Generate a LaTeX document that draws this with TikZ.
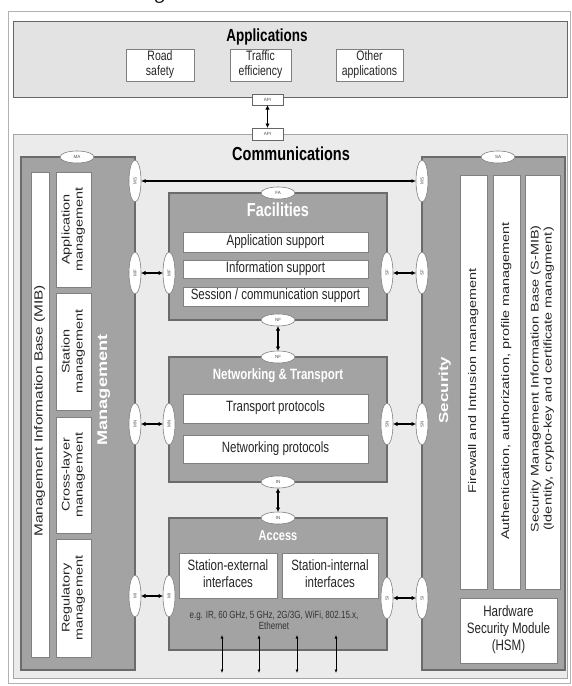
\documentclass[tikz,border=0pt]{standalone}
\usepackage{fontspec}
\setmainfont{Liberation Sans}
\newfontfamily\paperfont{Liberation Serif}
\usepackage{graphicx}
\usetikzlibrary{arrows.meta,shapes.geometric}
\newcommand\vstr[1]{\scalebox{1}[1.3]{\begin{tabular}{@{}c@{}}#1\end{tabular}}}
\newcommand\hstr[1]{\scalebox{1.3}[1]{\begin{tabular}{@{}c@{}}#1\end{tabular}}}
\newcommand\boxat[7]{\node[#6, minimum width={(#4-#2)*1pt}, minimum height={(#5-#3)*1pt}] (#1) at ({(#2+#4)/2},{(#3+#5)/2}) {#7};}
\begin{document}
\begin{tikzpicture}[x=1pt,y=-1pt,
  every node/.style={inner sep=0pt, outer sep=0pt},
  frame/.style={draw=black!30, line width=0.6pt, fill=white},
  appsbox/.style={draw=black!60, line width=1pt, fill=black!11},
  commbox/.style={draw=black!35, line width=1pt, fill=black!8},
  layer/.style={draw=black!58, line width=1.1pt, fill=black!36},
  wbox/.style={draw=black!50, line width=0.8pt, fill=white, text=black!85, align=center},
  sap/.style={ellipse, draw=black!50, line width=0.6pt, fill=white, font=\fontsize{4.5}{5}\selectfont, text=black!70},
  vsap/.style={sap, minimum width=12pt, minimum height=42pt},
  hsap/.style={sap, minimum width=34pt, minimum height=12pt},
  apibox/.style={draw=black!60, line width=0.6pt, fill=white, minimum width=31pt, minimum height=11pt, font=\fontsize{4.5}{5}\selectfont, text=black!70},
  dblarrow/.style={{Latex[length=4.5pt,width=4.5pt]}-{Latex[length=4.5pt,width=4.5pt]}, line width=1.3pt},
  msarrow/.style={{Latex[length=4.5pt,width=4pt]}-{Latex[length=4.5pt,width=4pt]}, line width=1.1pt},
  ioarrow/.style={{Latex[length=3.5pt,width=3pt]}-{Latex[length=3.5pt,width=3pt]}, line width=0.7pt},
  rottext/.style={rotate=90, text=black!85, font=\fontsize{11.1}{13}\selectfont},
  wtitle/.style={text=white, font=\bfseries\fontsize{14.5}{16}\selectfont},
  smalltext/.style={font=\fontsize{11.5}{13}\selectfont}
]
\useasboundingbox (0,0) rectangle (571,686);
\clip (0,0) rectangle (571,686);

% paper text cut at the top
\node[anchor=base west, font=\paperfont\fontsize{21}{21}\selectfont] (ptext) at (1,-3) {\scalebox{1}[1.3]{ts 3 is shown in Fig. 3}};

% outer frame
\boxat{outer}{8}{11}{570}{683}{frame}{}

% Applications
\boxat{apps}{13}{21}{567}{97}{appsbox}{}
\node[font=\bfseries\fontsize{13.5}{15}\selectfont] (apptitle) at (267,38) {\vstr{Applications}};
\boxat{road}{126}{49}{194}{81}{wbox, font=\fontsize{10.5}{12}\selectfont}{\vstr{Road\\safety}}
\boxat{traffic}{230}{49}{291}{81}{wbox, font=\fontsize{10.5}{12}\selectfont}{\vstr{Traffic\\efficiency}}
\boxat{other}{336}{49}{403}{81}{wbox, font=\fontsize{10.5}{12}\selectfont}{\vstr{Other\\applications}}

% Communications
\boxat{comm}{13}{134}{567}{678}{commbox}{}
\node[font=\bfseries\fontsize{14.5}{16}\selectfont] (commtitle) at (291,156) {\vstr{Communications}};

\node[apibox] (api1) at (267.5,99.5) {API};
\node[apibox, minimum height=12pt] (api2) at (267.5,134) {API};

% Management
\boxat{mgmt}{21}{157}{135}{670}{layer}{}
\boxat{mib}{31}{172}{49}{657}{wbox}{}
\boxat{appm}{56}{172}{91}{287}{wbox}{}
\boxat{statm}{56}{293}{91}{410}{wbox}{}
\boxat{crossm}{56}{417}{91}{533}{wbox}{}
\boxat{regm}{56}{539}{91}{657}{wbox}{}
\node[rottext, font=\fontsize{11.8}{13}\selectfont] (mibtext) at (40,411) {\hstr{Management Information Base (MIB)}};
\node[rottext] (appmtext) at (73.5,229.5) {\hstr{Application\\management}};
\node[rottext] (statmtext) at (73.5,351.5) {\hstr{Station\\management}};
\node[rottext] (crossmtext) at (73.5,475) {\hstr{Cross-layer\\management}};
\node[rottext] (regmtext) at (73.5,598) {\hstr{Regulatory\\management}};
\node[rotate=90, text=white, font=\bfseries\fontsize{14}{16}\selectfont] (mgmttitle) at (104,390) {\hstr{Management}};

% Security
\boxat{sec}{422}{157}{565}{670}{layer}{}
\boxat{fw}{460}{175}{487}{589}{wbox}{}
\boxat{auth}{493}{175}{520}{589}{wbox}{}
\boxat{smib}{525}{175}{560}{589}{wbox}{}
\boxat{hsm}{460}{598}{557}{663}{wbox, font=\fontsize{11.6}{13}\selectfont}{\vstr{Hardware\\Security Module\\(HSM)}}
\node[rottext] (fwtext) at (473.5,381) {\hstr{Firewall and Intrusion management}};
\node[rottext] (authtext) at (506.5,381) {\hstr{Authentication, authorization, profile management}};
\node[rottext] (smibtext) at (542.5,379) {\hstr{Security Management Information Base (S-MIB)\\(Identity, crypto-key and certificate managment)}};
\node[rotate=90, text=white, font=\bfseries\fontsize{13}{15}\selectfont] (sectitle) at (445,390) {\hstr{Security}};

% Facilities
\boxat{fac}{169}{193}{387}{320}{layer}{}
\node[wtitle] (factitle) at (278,212) {\vstr{Facilities}};
\boxat{appsup}{183}{232}{368}{252}{wbox, smalltext}{\vstr{Application support}}
\boxat{infosup}{183}{260}{368}{278}{wbox, smalltext}{\vstr{Information support}}
\boxat{sesssup}{183}{287}{368}{306}{wbox, smalltext}{\vstr{Session / communication support}}

% Networking & Transport
\boxat{net}{169}{357}{387}{482}{layer}{}
\node[wtitle, font=\bfseries\fontsize{11.5}{13}\selectfont] (nettitle) at (278,376) {\vstr{Networking \& Transport}};
\boxat{transp}{183}{394}{368}{423}{wbox, smalltext}{\vstr{Transport protocols}}
\boxat{netp}{183}{435}{368}{463}{wbox, smalltext}{\vstr{Networking protocols}}

% Access
\boxat{acc}{169}{518}{387}{650}{layer}{}
\node[wtitle, font=\bfseries\fontsize{11}{13}\selectfont] (acctitle) at (278,537) {\vstr{Access}};
\boxat{stext}{179}{553}{277}{598}{wbox, smalltext}{\vstr{Station-external\\interfaces}}
\boxat{stint}{282}{553}{378}{598}{wbox, smalltext}{\vstr{Station-internal\\interfaces}}
\node[font=\fontsize{8}{8.5}\selectfont, text=black!80] (egtext) at (274,622) {\vstr{e.g. IR, 60 GHz, 5 GHz, 2G/3G, WiFi, 802.15.x,\\Ethernet}};

% service access points
\node[hsap] (ma) at (77,157) {MA};
\node[hsap] (sa) at (498,157) {SA};
\node[hsap] (fa) at (278,193) {FA};
\node[hsap] (nf1) at (278,320) {NF};
\node[hsap] (nf2) at (278,357) {NF};
\node[hsap] (in1) at (278,482) {IN};
\node[hsap] (in2) at (278,518) {IN};

\node[vsap] (ms1) at (135,181) {\rotatebox{90}{MS}};
\node[vsap] (ms2) at (422,181) {\rotatebox{90}{MS}};
\node[vsap] (mf1) at (135,273) {\rotatebox{90}{MF}};
\node[vsap] (mf2) at (169,273) {\rotatebox{90}{MF}};
\node[vsap] (sf1) at (387,273) {\rotatebox{90}{SF}};
\node[vsap] (sf2) at (422,273) {\rotatebox{90}{SF}};
\node[vsap] (mn1) at (135,424) {\rotatebox{90}{MN}};
\node[vsap] (mn2) at (169,424) {\rotatebox{90}{MN}};
\node[vsap] (sn1) at (387,424) {\rotatebox{90}{SN}};
\node[vsap] (sn2) at (422,424) {\rotatebox{90}{SN}};
\node[vsap] (mi1) at (135,596) {\rotatebox{90}{MI}};
\node[vsap] (mi2) at (169,596) {\rotatebox{90}{MI}};
\node[vsap] (si1) at (387,598) {\rotatebox{90}{SI}};
\node[vsap] (si2) at (422,598) {\rotatebox{90}{SI}};

% connectors
\draw[dblarrow] (api1) -- (api2);
\draw[msarrow] (ms1) -- (ms2);
\draw[dblarrow] (mf1) -- (mf2);
\draw[dblarrow] (sf1) -- (sf2);
\draw[dblarrow] (mn1) -- (mn2);
\draw[dblarrow] (sn1) -- (sn2);
\draw[dblarrow] (mi1) -- (mi2);
\draw[dblarrow] (si1) -- (si2);
\draw[dblarrow] (nf1) -- (nf2);
\draw[dblarrow] (in1) -- (in2);

\coordinate (b1t) at (222,635); \coordinate (b1b) at (222,673);
\coordinate (b2t) at (259,635); \coordinate (b2b) at (259,673);
\coordinate (b3t) at (297,635); \coordinate (b3b) at (297,673);
\coordinate (b4t) at (336,635); \coordinate (b4b) at (336,673);
\draw[ioarrow] (b1t) -- (b1b);
\draw[ioarrow] (b2t) -- (b2b);
\draw[ioarrow] (b3t) -- (b3b);
\draw[ioarrow] (b4t) -- (b4b);
\end{tikzpicture}
\end{document}
